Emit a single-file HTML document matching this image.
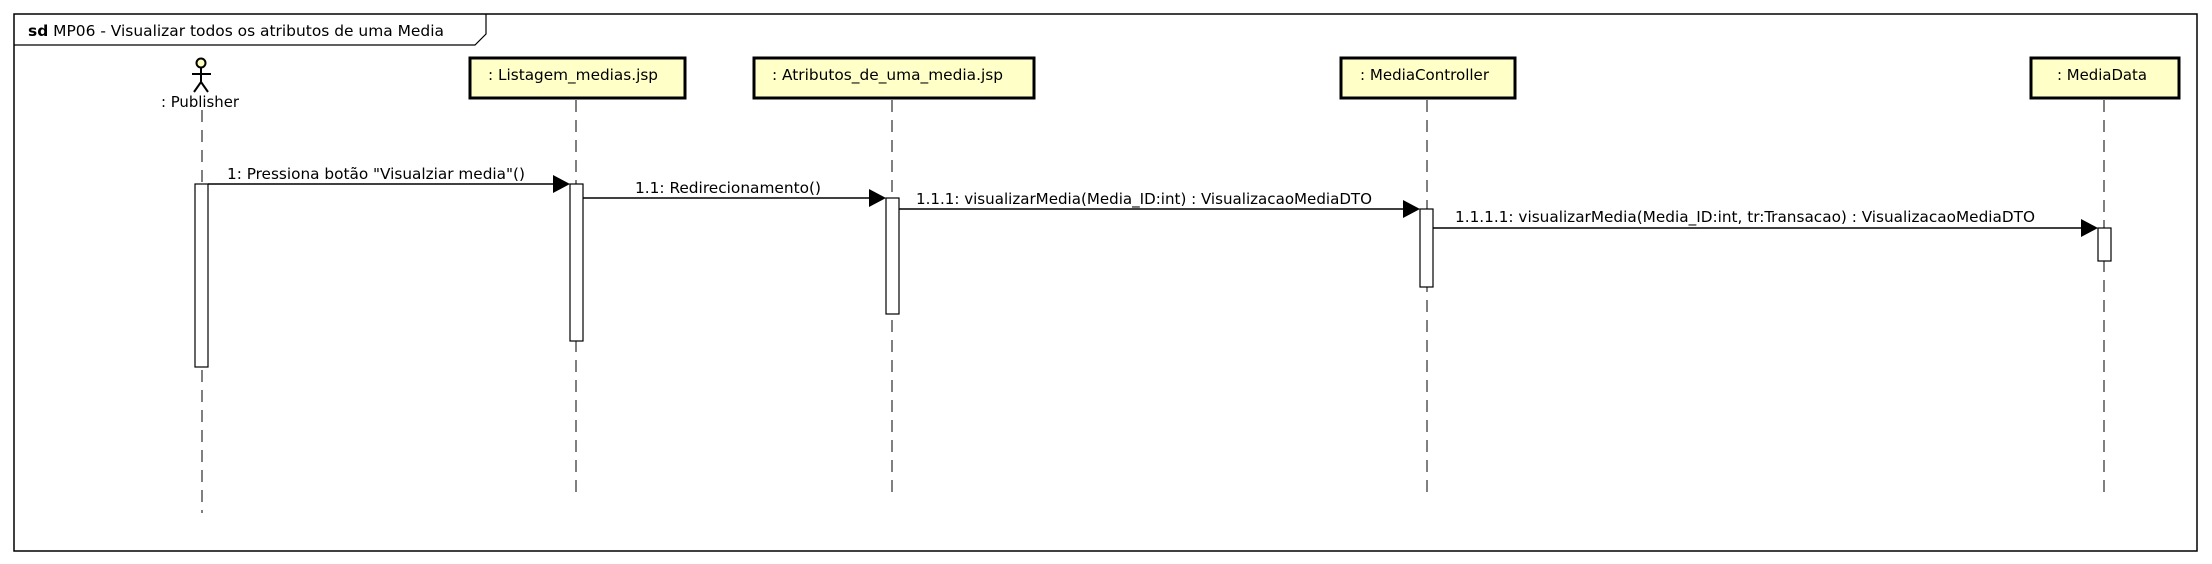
<!DOCTYPE html>
<html><head><meta charset="utf-8"><style>
html,body{margin:0;padding:0;background:#fff;}
svg{display:block;}
text{font-family:"DejaVu Sans Condensed","Liberation Sans Narrow","Liberation Sans",sans-serif;font-size:15px;fill:#000;}
</style></head><body>
<svg width="2212" height="564" viewBox="0 0 2212 564" xmlns="http://www.w3.org/2000/svg">
<rect x="0" y="0" width="2212" height="564" fill="#fff"/>
<rect x="14" y="14" width="2183" height="537" fill="none" stroke="#000" stroke-width="1.5"/>
<path d="M14 45 H475 L486 34 V14" fill="none" stroke="#000" stroke-width="1.2"/>
<text x="28" y="36" textLength="416" lengthAdjust="spacingAndGlyphs"><tspan font-weight="bold">sd</tspan> MP06 - Visualizar todos os atributos de uma Media</text>

<!-- lifelines -->
<g stroke="#000" stroke-width="1" stroke-dasharray="12,8" fill="none">
<line x1="202" y1="110" x2="202" y2="513"/>
<line x1="576" y1="100" x2="576" y2="500"/>
<line x1="892" y1="100" x2="892" y2="500"/>
<line x1="1427" y1="100" x2="1427" y2="500"/>
<line x1="2104" y1="100" x2="2104" y2="500"/>
</g>

<!-- actor -->
<circle cx="201" cy="63" r="4.5" fill="#ffffc0" stroke="#000" stroke-width="2"/>
<g stroke="#000" stroke-width="2">
<line x1="201" y1="68" x2="201" y2="82"/>
<line x1="192" y1="74" x2="211" y2="74"/>
<line x1="201" y1="82" x2="194" y2="92"/>
<line x1="201" y1="82" x2="208" y2="92"/>
</g>
<text x="161" y="107" textLength="78" lengthAdjust="spacingAndGlyphs">: Publisher</text>

<!-- boxes -->
<g fill="#ffffc8" stroke="#000" stroke-width="3">
<rect x="470" y="58" width="215" height="40"/>
<rect x="754" y="58" width="280" height="40"/>
<rect x="1341" y="58" width="174" height="40"/>
<rect x="2031" y="58" width="148" height="40"/>
</g>
<text x="488" y="80" textLength="170" lengthAdjust="spacingAndGlyphs">: Listagem_medias.jsp</text>
<text x="772" y="80" textLength="231" lengthAdjust="spacingAndGlyphs">: Atributos_de_uma_media.jsp</text>
<text x="1360" y="80" textLength="129" lengthAdjust="spacingAndGlyphs">: MediaController</text>
<text x="2057" y="80" textLength="90" lengthAdjust="spacingAndGlyphs">: MediaData</text>

<!-- messages -->
<g stroke="#000" stroke-width="1.5">
<line x1="208" y1="184" x2="556" y2="184"/>
<line x1="583" y1="198" x2="872" y2="198"/>
<line x1="899" y1="209" x2="1406" y2="209"/>
<line x1="1433" y1="228" x2="2084" y2="228"/>
</g>
<g fill="#000">
<polygon points="553,175 570,184 553,193"/>
<polygon points="869,189 886,198 869,207"/>
<polygon points="1403,200 1420,209 1403,218"/>
<polygon points="2081,219 2098,228 2081,237"/>
</g>
<text x="227" y="179" textLength="298" lengthAdjust="spacingAndGlyphs">1: Pressiona botão "Visualziar media"()</text>
<text x="635" y="193" textLength="186" lengthAdjust="spacingAndGlyphs">1.1: Redirecionamento()</text>
<text x="916" y="204" textLength="456" lengthAdjust="spacingAndGlyphs">1.1.1: visualizarMedia(Media_ID:int) : VisualizacaoMediaDTO</text>
<text x="1455" y="222" textLength="580" lengthAdjust="spacingAndGlyphs">1.1.1.1: visualizarMedia(Media_ID:int, tr:Transacao) : VisualizacaoMediaDTO</text>

<!-- activations -->
<g fill="#fff" stroke="#000" stroke-width="1.2">
<rect x="195" y="184" width="13" height="183"/>
<rect x="570" y="184" width="13" height="157"/>
<rect x="886" y="198" width="13" height="116"/>
<rect x="1420" y="209" width="13" height="78"/>
<rect x="2098" y="228" width="13" height="33"/>
</g>
</svg>
</body></html>
